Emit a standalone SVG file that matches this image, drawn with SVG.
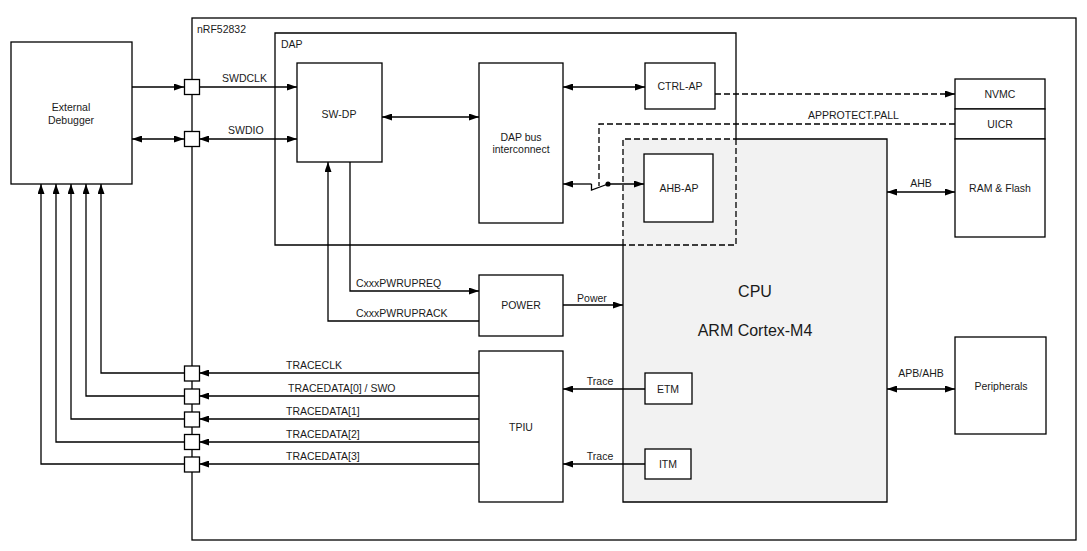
<svg xmlns="http://www.w3.org/2000/svg" width="1087" height="551" viewBox="0 0 1087 551">
<defs>
<marker id="ah" viewBox="0 0 10 7" refX="10" refY="3.5" markerWidth="10" markerHeight="7" markerUnits="userSpaceOnUse" orient="auto-start-reverse"><path d="M0,0 L10,3.5 L0,7 z" fill="#000"/></marker>
</defs>
<style>
text{font-family:"Liberation Sans",Arial,sans-serif;font-size:10.5px;fill:#1a1a1a}
.c{text-anchor:middle}
.b{fill:#fff;stroke:#000;stroke-width:1.3}
.n{fill:none;stroke:#000;stroke-width:1.3}
.d{fill:none;stroke:#000;stroke-width:1.3;stroke-dasharray:6,3}
.ln{fill:none;stroke:#000;stroke-width:1.3}
.a2{marker-start:url(#ah);marker-end:url(#ah)}
.a1{marker-end:url(#ah)}
</style>
<rect width="1087" height="551" fill="#fff"/>
<g id="nrf52832">
<rect x="192" y="18" width="884" height="522" class="n"/>
<text x="197" y="33">nRF52832</text>
</g>
<g id="cpu">
<rect x="623" y="139" width="264" height="363" fill="#f2f2f2" stroke="none"/>
<path d="M736,139 H887 V502 H623 V245" class="n"/>
<path d="M623,245 V139 H736" class="d"/>
<text x="755" y="297" class="c" style="font-size:16px">CPU</text>
<text x="755" y="336" class="c" style="font-size:16px">ARM Cortex-M4</text>
</g>
<g id="dap">
<path d="M736,139 V33 H275 V245 H623" class="n"/>
<path d="M736,139 V245 H623" class="d"/>
<text x="281" y="48">DAP</text>
</g>
<g id="debugger">
<rect x="11" y="42" width="121" height="142" class="b"/>
<text x="71" y="111" class="c">External</text>
<text x="71" y="124" class="c">Debugger</text>
</g>
<g id="sw-dp"><rect x="297" y="63" width="85" height="99" class="b"/><text x="339" y="118" class="c">SW-DP</text></g>
<g id="dap-bus"><rect x="479" y="63" width="84" height="160" class="b"/><text x="521" y="141" class="c">DAP bus</text><text x="521" y="153" class="c">interconnect</text></g>
<g id="ctrl-ap"><rect x="645" y="63" width="70" height="46" class="b"/><text x="680" y="90" class="c">CTRL-AP</text></g>
<g id="ahb-ap"><rect x="644" y="154" width="69" height="68" class="b"/><text x="679" y="192" class="c">AHB-AP</text></g>
<g id="nvmc"><rect x="955" y="79" width="90" height="30" class="b"/><text x="1000" y="98" class="c">NVMC</text></g>
<g id="uicr"><rect x="955" y="109" width="90" height="30" class="b"/><text x="1000" y="128" class="c">UICR</text></g>
<g id="ram-flash"><rect x="955" y="139" width="90" height="98" class="b"/><text x="1000" y="192" class="c">RAM &amp; Flash</text></g>
<g id="power"><rect x="479" y="275" width="84" height="61" class="b"/><text x="521" y="309" class="c">POWER</text></g>
<g id="tpiu"><rect x="479" y="351" width="84" height="151" class="b"/><text x="521" y="431" class="c">TPIU</text></g>
<g id="etm"><rect x="645" y="373" width="47" height="31" class="b"/><text x="668" y="393" class="c">ETM</text></g>
<g id="itm"><rect x="645" y="449" width="46" height="30" class="b"/><text x="668" y="468" class="c">ITM</text></g>
<g id="peripherals"><rect x="955" y="337" width="91" height="97" class="b"/><text x="1001" y="390" class="c">Peripherals</text></g>
<g id="connectors">
<path d="M132,87 H184" class="ln a1"/>
<path d="M199,87 H297" class="ln a1"/>
<path d="M132,139 H184" class="ln a2"/>
<path d="M199,139 H297" class="ln a2"/>
<path d="M382,117 H479" class="ln a2"/>
<path d="M563,87 H645" class="ln a2"/>
<path d="M715,94 H955" class="d a1"/>
<path d="M955,124 H599 V186" class="d"/>
<path d="M591.5,184 H563" class="ln a1"/>
<path d="M591.5,184 V190 L608,184" class="ln"/>
<path d="M608,184 H644" class="ln a1"/>
<circle cx="608" cy="184" r="2.6" fill="#000"/>
<path d="M887,192 H955" class="ln a2"/>
<path d="M350,162 V291 H479" class="ln a1"/>
<path d="M479,321 H328 V162" class="ln a1"/>
<path d="M563,305 H623" class="ln a1"/>
<path d="M645,389 H563" class="ln a1"/>
<path d="M645,464 H563" class="ln a1"/>
<path d="M887,389 H955" class="ln a2"/>
<path d="M479,373 H199" class="ln a1"/>
<path d="M479,396 H199" class="ln a1"/>
<path d="M479,419 H199" class="ln a1"/>
<path d="M479,442 H199" class="ln a1"/>
<path d="M479,464 H199" class="ln a1"/>
<path d="M184,373 H101 V184" class="ln a1"/>
<path d="M184,396 H86 V184" class="ln a1"/>
<path d="M184,419 H71 V184" class="ln a1"/>
<path d="M184,442 H56 V184" class="ln a1"/>
<path d="M184,464 H41 V184" class="ln a1"/>
</g>
<g id="pins" class="b">
<rect x="184.5" y="79.5" width="15" height="15"/>
<rect x="184.5" y="131.5" width="15" height="15"/>
<rect x="184.5" y="366" width="15" height="15"/>
<rect x="184.5" y="389" width="15" height="15"/>
<rect x="184.5" y="412" width="15" height="15"/>
<rect x="184.5" y="434.5" width="15" height="15"/>
<rect x="184.5" y="457" width="15" height="15"/>
</g>
<g id="labels">
<text x="222" y="82">SWDCLK</text>
<text x="228" y="134">SWDIO</text>
<text x="808" y="119">APPROTECT.PALL</text>
<text x="921" y="187" class="c">AHB</text>
<text x="356" y="287">CxxxPWRUPREQ</text>
<text x="356" y="317">CxxxPWRUPRACK</text>
<text x="592" y="302" class="c">Power</text>
<text x="600" y="385" class="c">Trace</text>
<text x="600" y="460" class="c">Trace</text>
<text x="921" y="377" class="c">APB/AHB</text>
<text x="286" y="369">TRACECLK</text>
<text x="288" y="392">TRACEDATA[0] / SWO</text>
<text x="286" y="415">TRACEDATA[1]</text>
<text x="286" y="438">TRACEDATA[2]</text>
<text x="286" y="460">TRACEDATA[3]</text>
</g>
</svg>
